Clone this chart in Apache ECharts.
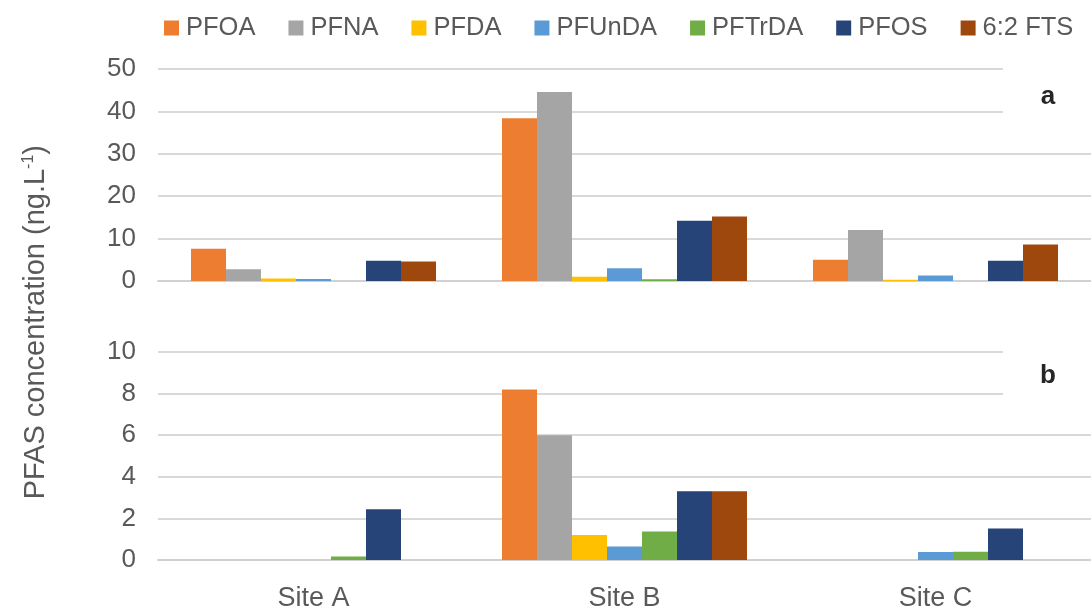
<!DOCTYPE html>
<html>
<head>
<meta charset="utf-8">
<script src="https://cdn.jsdelivr.net/npm/echarts@6/dist/echarts.min.js"></script>
<style>
  html, body { margin: 0; padding: 0; background: #fff; }
  #chart { width: 1091px; height: 612px; }
</style>
</head>
<body>
<div id="chart"></div>
<script>
// Sampling sites and measured compounds
const sites = ['Site A', 'Site B', 'Site C'];
const compounds = ['PFOA', 'PFNA', 'PFDA', 'PFUnDA', 'PFTrDA', 'PFOS', '6:2 FTS'];
const colors = ['#ED7D31', '#A5A5A5', '#FFC000', '#5B9BD5', '#70AD47', '#264478', '#9E480E'];

// Panel a concentrations (ng/L), one array per compound, ordered by site
const aPFOA   = [7.6, 38.4, 5.0];
const aPFNA   = [2.8, 44.6, 12.0];
const aPFDA   = [0.6, 1.0, 0.3];
const aPFUnDA = [0.5, 3.0, 1.3];
const aPFTrDA = [0, 0.4, 0];
const aPFOS   = [4.8, 14.2, 4.8];
const aFTS    = [4.6, 15.2, 8.6];

// Panel b concentrations (ng/L)
const bPFOA   = [0, 8.2, 0];
const bPFNA   = [0, 6.0, 0];
const bPFDA   = [0, 1.2, 0];
const bPFUnDA = [0, 0.65, 0.38];
const bPFTrDA = [0.17, 1.37, 0.4];
const bPFOS   = [2.44, 3.3, 1.52];
const bFTS    = [0, 3.3, 0];

// Axis ranges
const yTicksA = { min: 0, max: 50, interval: 10 };
const yTicksB = { min: 0, max: 10, interval: 2 };

const panelA = [aPFOA, aPFNA, aPFDA, aPFUnDA, aPFTrDA, aPFOS, aFTS];
const panelB = [bPFOA, bPFNA, bPFDA, bPFUnDA, bPFTrDA, bPFOS, bFTS];

const FONT = '"Liberation Sans", Arial, sans-serif';
const TEXT = '#595959';
const GRID_LINE = '#d9d9d9';

function makeSeries(values, idx) {
  return values.map((data, i) => ({
    name: compounds[i],
    type: 'bar',
    xAxisIndex: idx,
    yAxisIndex: idx,
    data: data,
    barWidth: 35,
    barGap: '0%',
    itemStyle: { color: colors[i] },
    emphasis: { disabled: true }
  }));
}

function xAxisFor(idx, showLabels) {
  return {
    type: 'category',
    gridIndex: idx,
    data: sites,
    axisTick: { show: false },
    axisLine: { show: true, lineStyle: { color: '#d0d0d0', width: 2 } },
    axisLabel: {
      show: showLabels,
      color: TEXT,
      fontFamily: FONT,
      fontSize: 27,
      margin: 25
    },
    splitLine: { show: false }
  };
}

function yAxisFor(idx, ticks) {
  return {
    type: 'value',
    gridIndex: idx,
    min: ticks.min,
    max: ticks.max,
    interval: ticks.interval,
    axisLine: { show: false },
    axisTick: { show: false },
    axisLabel: { color: TEXT, fontFamily: FONT, fontSize: 26, margin: 22 },
    splitLine: { lineStyle: { color: GRID_LINE, width: 2 } }
  };
}

const chart = echarts.init(document.getElementById('chart'), null, { renderer: 'canvas' });

chart.setOption({
  animation: false,
  backgroundColor: '#ffffff',
  legend: {
    data: compounds,
    top: 10,
    left: 159,
    icon: 'rect',
    itemWidth: 15,
    itemHeight: 15,
    itemGap: 33,
    textStyle: { color: TEXT, fontFamily: FONT, fontSize: 25.5, padding: [0, 0, 0, 2] }
  },
  grid: [
    { left: 158, width: 940, top: 69, height: 212 },
    { left: 158, width: 940, top: 352, height: 210 }
  ],
  xAxis: [xAxisFor(0, false), xAxisFor(1, true)],
  yAxis: [yAxisFor(0, yTicksA), yAxisFor(1, yTicksB)],
  series: makeSeries(panelA, 0).concat(makeSeries(panelB, 1)),
  graphic: [
    {
      type: 'text',
      left: 21,
      top: 145,
      rotation: Math.PI / 2,
      z: 100,
      style: {
        text: 'PFAS concentration (ng.L{sup|-1})',
        fill: TEXT,
        font: '29px ' + FONT,
        rich: {
          sup: { fontSize: 16, fontFamily: FONT, fill: TEXT, padding: [0, 0, 13, 0] }
        }
      }
    },
    {
      type: 'rect',
      z: 100,
      shape: { x: 1003, y: 60, width: 88, height: 60 },
      style: { fill: '#ffffff' }
    },
    {
      type: 'text',
      z: 101,
      x: 1048,
      y: 97,
      style: { text: 'a', fill: '#262626', font: 'bold 26px ' + FONT, align: 'center', verticalAlign: 'middle' }
    },
    {
      type: 'rect',
      z: 100,
      shape: { x: 1003, y: 343, width: 88, height: 60 },
      style: { fill: '#ffffff' }
    },
    {
      type: 'text',
      z: 101,
      x: 1048,
      y: 376,
      style: { text: 'b', fill: '#262626', font: 'bold 26px ' + FONT, align: 'center', verticalAlign: 'middle' }
    }
  ]
});
</script>
</body>
</html>
